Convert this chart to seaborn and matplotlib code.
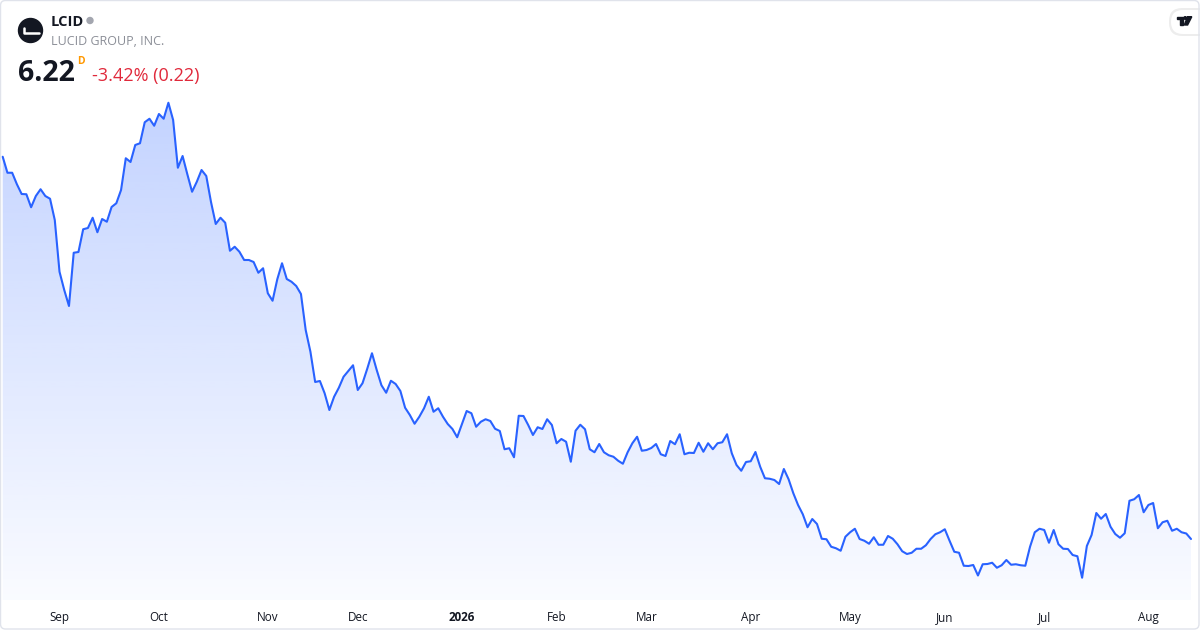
import matplotlib
matplotlib.use("Agg")
import matplotlib.pyplot as plt
from matplotlib.patches import FancyBboxPatch, Circle, Polygon
from matplotlib.transforms import Affine2D
import numpy as np
import pandas as pd
import seaborn as sns

# daily closes, LCID, one year of trading days starting 2025-08-14
prices = [
    21.51, 20.87, 20.87, 20.41, 20.02, 20.01, 19.49, 19.94, 20.21, 19.94,
    19.83, 18.98, 16.91, 16.18, 15.54, 17.67, 17.70, 18.61, 18.66, 19.07,
    18.49, 19.02, 18.91, 19.50, 19.65, 20.18, 21.45, 21.30, 21.98, 22.05,
    22.89, 23.03, 22.75, 23.22, 23.03, 23.67, 22.98, 21.07, 21.54, 20.81,
    20.11, 20.51, 20.98, 20.74, 19.70, 18.82, 19.07, 18.87, 17.75, 17.91,
    17.71, 17.38, 17.38, 17.30, 16.87, 17.05, 16.05, 15.75, 16.61, 17.25,
    16.62, 16.51, 16.34, 16.02, 14.58, 13.71, 12.50, 12.54, 12.05, 11.38,
    11.91, 12.27, 12.71, 12.94, 13.17, 12.18, 12.45, 13.03, 13.65, 12.98,
    12.37, 12.07, 12.55, 12.42, 12.14, 11.47, 11.18, 10.83, 11.11, 11.45,
    11.91, 11.31, 11.45, 11.11, 10.82, 10.62, 10.29, 10.81, 11.34, 11.25,
    10.71, 10.91, 11.01, 10.94, 10.63, 10.54, 9.81, 9.85, 9.49, 11.15,
    11.14, 10.78, 10.38, 10.69, 10.62, 11.01, 10.78, 10.05, 10.22, 10.11,
    9.31, 10.55, 10.79, 10.61, 9.81, 9.69, 10.02, 9.69, 9.57, 9.51,
    9.35, 9.23, 9.69, 10.05, 10.31, 9.75, 9.78, 9.86, 10.02, 9.61,
    9.54, 10.14, 10.01, 10.41, 9.61, 9.67, 9.66, 10.07, 9.71, 10.05,
    9.81, 10.05, 10.09, 10.41, 9.65, 9.18, 8.95, 9.30, 9.33, 9.70,
    9.11, 8.65, 8.63, 8.58, 8.42, 9.02, 8.61, 8.05, 7.58, 7.21,
    6.69, 7.02, 6.82, 6.23, 6.21, 5.91, 5.85, 5.75, 6.31, 6.49,
    6.63, 6.22, 6.15, 6.03, 6.29, 5.99, 5.99, 6.34, 6.23, 6.01,
    5.73, 5.62, 5.67, 5.83, 5.83, 5.97, 6.22, 6.41, 6.49, 6.61,
    6.15, 5.71, 5.67, 5.15, 5.14, 5.18, 4.76, 5.21, 5.22, 5.27,
    5.07, 5.17, 5.38, 5.19, 5.21, 5.17, 5.15, 5.91, 6.49, 6.63,
    6.58, 6.07, 6.58, 6.01, 5.83, 5.82, 5.58, 5.53, 4.67, 5.94,
    6.38, 7.26, 7.03, 7.22, 6.71, 6.42, 6.27, 6.45, 7.75, 7.81,
    7.98, 7.29, 7.58, 7.66, 6.65, 6.89, 6.95, 6.55, 6.63, 6.49,
    6.44, 6.22,
]
market_holidays = ["2025-09-01", "2025-11-27", "2025-12-25", "2026-01-01",
                   "2026-01-19", "2026-02-16", "2026-04-03", "2026-05-25",
                   "2026-06-19", "2026-07-03"]
month_labels = ["Sep", "Oct", "Nov", "Dec", "2026", "Feb", "Mar", "Apr",
                "May", "Jun", "Jul", "Aug"]
ticker = "LCID"
company = "LUCID GROUP, INC."

dates = pd.bdate_range("2025-08-14", periods=len(prices), freq="C",
                       holidays=market_holidays)
df = pd.DataFrame({"i": np.arange(len(prices)), "date": dates, "price": prices})

# first trading day of each month -> tick position
firsts = df.groupby(df["date"].dt.to_period("M"))["i"].first().values[1:]

sns.set_style("white")
plt.rcParams["font.family"] = ["Open Sans", "DejaVu Sans"]

W, H = 1200, 630
fig = plt.figure(figsize=(12, 6.3), dpi=100)
px = Affine2D().scale(1 / W, -1 / H).translate(0, 1) + fig.transFigure

ax = fig.add_axes([0, 30 / H, 1, 600 / H])
x0, x1 = -0.57, 252.9
y0, y1 = 3.78, 27.78

# gradient area under the line
poly = ax.fill_between(df["i"], df["price"], y0, color="none", lw=0)
n = 256
rgba = np.zeros((n, 1, 4))
rgba[..., 0] = 41 / 255
rgba[..., 1] = 98 / 255
rgba[..., 2] = 1.0
rgba[:, 0, 3] = np.linspace(0.025, 0.28, n)
im = ax.imshow(rgba, extent=[x0, x1, y0, max(prices)], origin="lower",
               aspect="auto", zorder=1, interpolation="bilinear")
im.set_clip_path(poly.get_paths()[0], transform=ax.transData)

sns.lineplot(data=df, x="i", y="price", color="#2962FF", linewidth=1.5,
             ax=ax, zorder=3)

ax.set_xlim(x0, x1)
ax.set_ylim(y0, y1)
ax.set_xlabel("")
ax.set_ylabel("")
ax.set_yticks([])
ax.set_xticks(firsts, month_labels)
ax.tick_params(axis="x", length=0, pad=8, labelsize=8.4, labelcolor="#131722")
for lab in ax.get_xticklabels():
    if lab.get_text().isdigit():
        lab.set_fontweight("bold")
for s in ax.spines.values():
    s.set_visible(False)

# header
last = prices[-1]
chg = last - prices[-2]
pct = chg / prices[-2] * 100

fig.patches.append(Circle((30.5, 30.5), 12, transform=px, color="#131722"))
fig.lines.append(plt.Line2D([24, 24, 38.5], [28.3, 32.8, 32.8], transform=px,
                            color="white", lw=1.8, solid_capstyle="round",
                            solid_joinstyle="round"))
fig.text(51, 26, ticker, transform=px, fontsize=10.5, fontweight="bold",
         color="#131722", va="baseline")
fig.patches.append(Circle((90, 20.5), 3, transform=px, color="#a3a6af"))
fig.text(51, 45, company, transform=px, fontsize=9, color="#8b8e97",
         va="baseline")
fig.text(18, 81, f"{last:.2f}", transform=px, fontsize=20.5, fontweight="bold",
         color="#131722", va="baseline")
fig.text(77, 64.5, "D", transform=px, fontsize=7.5, fontweight="bold",
         color="#ff9800", va="baseline")
fig.text(92, 81, f"{pct:.2f}% ({abs(chg):.2f})", transform=px, fontsize=13,
         color="#e0293b", va="baseline")

# tradingview badge
fig.patches.append(FancyBboxPatch((1169, 8), 42, 28, transform=px,
                                  boxstyle="round,pad=0,rounding_size=13",
                                  fc="#000000", ec="none", alpha=0.07))
fig.patches.append(FancyBboxPatch((1171, 10), 40, 24, transform=px,
                                  boxstyle="round,pad=0,rounding_size=12",
                                  fc="white", ec="none"))
fig.patches.append(Polygon([(1177.3, 16.7), (1183.3, 16.7), (1183.3, 25),
                            (1180.3, 25), (1180.3, 19.3), (1177.3, 19.3)],
                           transform=px, color="#131722"))
fig.patches.append(Circle((1185.2, 18), 1.3, transform=px, color="#131722"))
fig.patches.append(Polygon([(1187.5, 16.7), (1191.8, 16.7), (1187.6, 25),
                            (1184.3, 25)], transform=px, color="#131722"))

# outer frame
fig.patches.append(FancyBboxPatch((0.5, 0.5), 1198.5, 628.5, transform=px,
                                  boxstyle="round,pad=0,rounding_size=5",
                                  fc="none", ec="#e0e3eb", lw=1))

fig.savefig("out.png", dpi=100)
